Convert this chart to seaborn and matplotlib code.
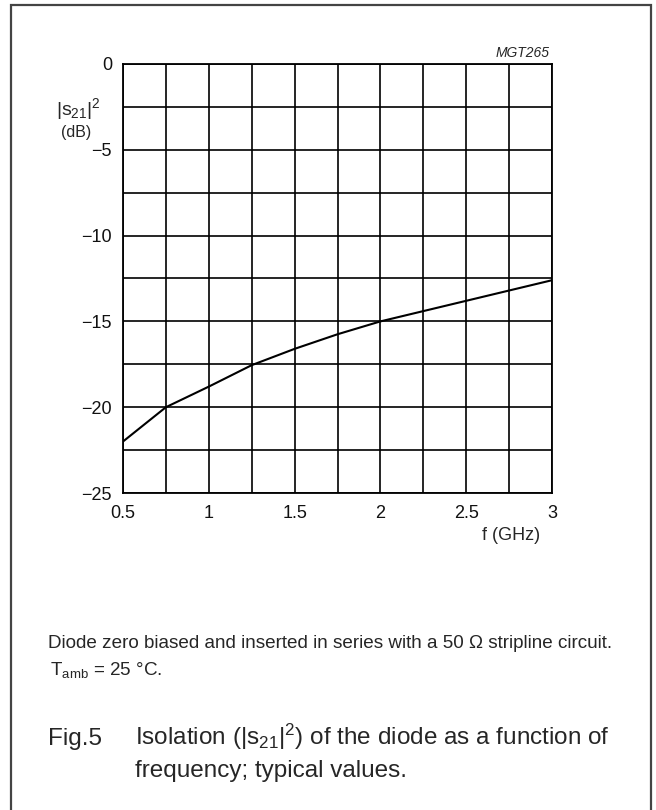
import numpy as np
import pandas as pd
import matplotlib
matplotlib.use('Agg')
import matplotlib.pyplot as plt
import seaborn as sns
from matplotlib.patches import Rectangle
from matplotlib.ticker import MultipleLocator

# data
freq = [0.5, 0.75, 1.0, 1.25, 1.5, 1.75, 2.0, 2.25, 2.5, 2.75, 3.0]
iso = [-22.0, -20.0, -18.8, -17.55, -16.6, -15.75, -15.0, -14.4, -13.8, -13.2, -12.6]
x_ticks = [0.5, 1, 1.5, 2, 2.5, 3]
x_tick_labels = ['0.5', '1', '1.5', '2', '2.5', '3']
y_ticks = [0, -5, -10, -15, -20, -25]
y_tick_labels = ['0', '\u22125', '\u221210', '\u221215', '\u221220', '\u221225']

sns.set_style('white')
plt.rcParams['font.family'] = ['Liberation Sans', 'DejaVu Sans']
plt.rcParams['mathtext.fontset'] = 'custom'
plt.rcParams['mathtext.rm'] = 'Liberation Sans'
plt.rcParams['mathtext.it'] = 'Liberation Sans:italic'

W, H = 656, 810
fig = plt.figure(figsize=(W / 100, H / 100), dpi=100)


def px(x, y):
    return x / W, 1 - y / H


# plot area in pixels: left 123, right 552, top 64, bottom 493
ax = fig.add_axes([123 / W, 1 - 493 / H, (552 - 123) / W, (493 - 64) / H])

df = pd.DataFrame({'f': freq, 's21': iso})
sns.lineplot(data=df, x='f', y='s21', ax=ax, color='black', linewidth=1.5, zorder=3)

ax.set_xlim(0.5, 3)
ax.set_ylim(-25, 0)
ax.set_xticks(x_ticks)
ax.set_xticklabels(x_tick_labels)
ax.set_yticks(y_ticks)
ax.set_yticklabels(y_tick_labels)
ax.xaxis.set_minor_locator(MultipleLocator(0.25))
ax.yaxis.set_minor_locator(MultipleLocator(2.5))
ax.grid(True, which='both', color='black', linewidth=1.2)
ax.tick_params(which='both', length=0, labelsize=13, colors='#111111')
ax.tick_params(axis='x', pad=9)
ax.tick_params(axis='y', pad=8)
for s in ax.spines.values():
    s.set_color('black')
    s.set_linewidth(1.3)
ax.set_xlabel('')
ax.set_ylabel('')

# axis labels
fig.text(*px(101, 115), '|s$_{21}$|$^{2}$', ha='right', va='baseline', fontsize=14)
fig.text(*px(76, 137), '(dB)', ha='center', va='baseline', fontsize=11.5)
fig.text(*px(511, 540), 'f (GHz)', ha='center', va='baseline', fontsize=13)
fig.text(*px(550, 57), 'MGT265', ha='right', va='baseline', fontsize=10,
         style='italic')

# notes below the chart
fig.text(*px(48, 648), 'Diode zero biased and inserted in series with a 50 \u03a9 stripline circuit.',
         ha='left', va='baseline', fontsize=13.6)
fig.text(*px(50, 675), 'T$_{\\mathrm{amb}}$ = 25 \u00b0C.', ha='left', va='baseline', fontsize=13.6)
fig.text(*px(48, 745), 'Fig.5', ha='left', va='baseline', fontsize=17.5)
fig.text(*px(135, 745), 'Isolation (|s$_{21}$|$^{2}$) of the diode as a function of',
         ha='left', va='baseline', fontsize=17.5)
fig.text(*px(135, 777), 'frequency; typical values.', ha='left', va='baseline', fontsize=17.5)

# page frame
fig.patches.append(Rectangle((11 / W, -0.05), (651 - 11) / W, 1.05 - 5 / H,
                             transform=fig.transFigure, fill=False,
                             edgecolor='#444444', linewidth=1.6))

fig.savefig('out.png', dpi=100)
